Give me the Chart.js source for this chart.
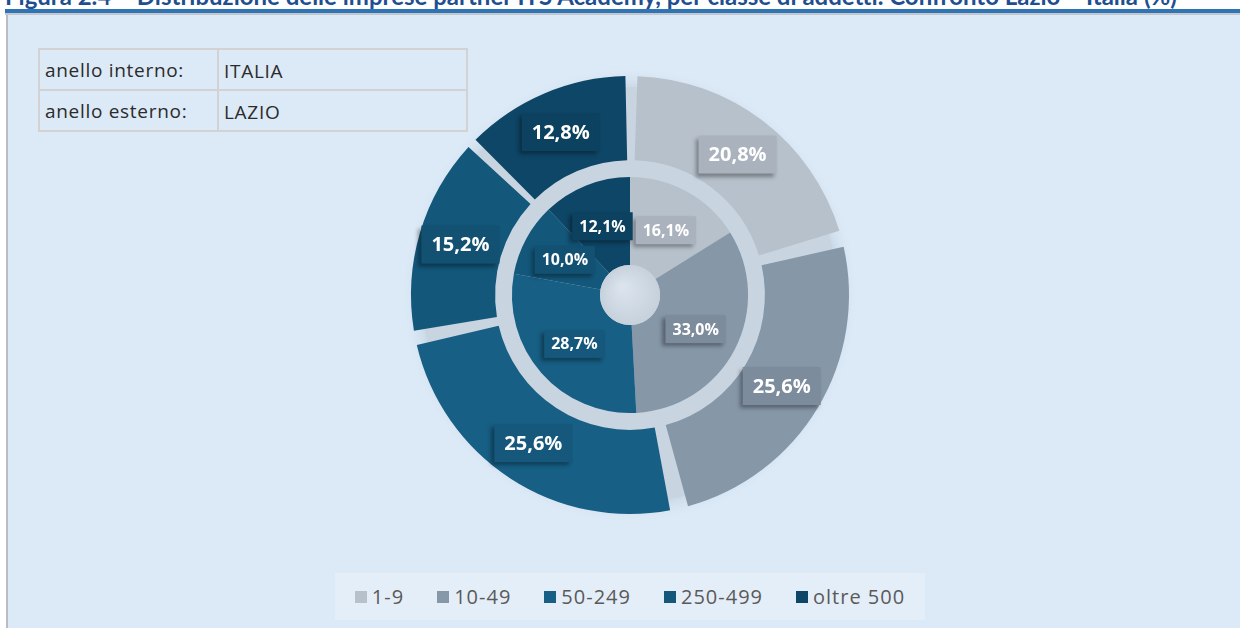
<!DOCTYPE html>
<html>
<head>
<meta charset="utf-8">
<script src="https://cdn.jsdelivr.net/npm/chart.js@4.4.1/dist/chart.umd.min.js"></script>
<style>
    html, body { margin: 0; padding: 0; }
    body { width: 1240px; height: 628px; position: relative; overflow: hidden; background: #fff; font-family: "Open Sans", sans-serif; }
    .title { position: absolute; left: 5px; top: -16px; font: bold 24px/24px Lato, sans-serif; color: #1f4f8f; white-space: nowrap; }
    .rule-blue { position: absolute; left: 5px; right: 0; top: 9px; height: 4px; background: #2f75b6; }
    .rule-grey { position: absolute; left: 5px; right: 0; top: 13px; height: 2px; background: #c4c8cc; }
    .panel { position: absolute; left: 6px; right: 0; top: 15px; bottom: 0; background: #dce9f6; border-left: 2px solid #b9bcc0; }
    .rings { position: absolute; left: 38px; top: 48px; border-collapse: collapse; font-size: 19px; letter-spacing: 0.7px; color: #2b2b2b; }
    .rings td { border: 2px solid #d3d1d2; height: 36px; padding: 0 5px; }
    .rings td:first-child { width: 167px; }
    .rings td:last-child { width: 237px; padding-top: 3px; }
    .chart-box { position: absolute; left: 0; top: 0; width: 1240px; height: 628px; }
    .legend { position: absolute; left: 335px; top: 573px; width: 590px; height: 47px; background: #e4eef8; display: flex; align-items: center; justify-content: center; gap: 33px; font-size: 20px; letter-spacing: 1px; color: #5a5a5a; }
    .legend span { display: flex; align-items: center; }
    .legend i { display: inline-block; width: 12px; height: 12px; margin-right: 5px; }
</style>
</head>
<body>
<div class="title">Figura 2.4 – Distribuzione delle imprese partner ITS Academy, per classe di addetti. Confronto Lazio – Italia (%)</div>
<div class="rule-blue"></div>
<div class="rule-grey"></div>
<div class="panel"></div>
<table class="rings" id="rings"></table>
<div class="chart-box"><canvas id="myChart"></canvas></div>
<div class="legend" id="legend"></div>

<script>
// Dati

const categories = ['1-9', '10-49', '50-249', '250-499', 'oltre 500']
const lazio = [20.8, 25.6, 25.6, 15.2, 12.8]   // anello esterno
const italia = [16.1, 33.0, 28.7, 10.0, 12.1]  // anello interno
const ringLabels = ['anello interno:', 'anello esterno:']
const ringNames = ['ITALIA', 'LAZIO']

const colors = ['#b7c1cb', '#8697a8', '#175f85', '#13577b', '#0e4667']

// Tabellina anelli
const rings = document.getElementById('rings')
ringLabels.forEach((l, i) => {
    rings.innerHTML += '<tr><td>' + l + '</td><td>' + ringNames[i] + '</td></tr>'
})

// Legenda
const legend = document.getElementById('legend')
categories.forEach((c, i) => {
    legend.innerHTML += '<span><i style="background:' + colors[i] + '"></i>' + c + '</span>'
})

const fmt = v => v.toFixed(1).replace('.', ',') + '%'

function darken(hex, k) {
    const n = parseInt(hex.slice(1), 16)
    const r = Math.round(((n >> 16) & 255) * k)
    const g = Math.round(((n >> 8) & 255) * k)
    const b = Math.round((n & 255) * k)
    return 'rgb(' + r + ',' + g + ',' + b + ')'
}

// sfondo grigio dietro gli anelli + foro centrale
const backdrop = {
    id: 'backdrop',
    beforeDatasetsDraw(chart) {
        const arc = chart.getDatasetMeta(0).data[0]
        const ctx = chart.ctx
        ctx.save()
        ctx.shadowColor = 'rgba(40,70,100,0.18)'
        ctx.shadowBlur = 18
        ctx.fillStyle = '#c8d4e0'
        ctx.beginPath()
        ctx.arc(arc.x, arc.y, arc.outerRadius - 2, 0, Math.PI * 2)
        ctx.fill()
        ctx.restore()
    },
    afterDatasetsDraw(chart) {
        const inner = chart.getDatasetMeta(2).data[0]
        const ctx = chart.ctx
        const r = inner.innerRadius
        const g = ctx.createRadialGradient(inner.x - 8, inner.y - 8, 2, inner.x, inner.y, r)
        g.addColorStop(0, '#dbe4ed')
        g.addColorStop(1, '#c6d1dc')
        ctx.save()
        ctx.fillStyle = g
        ctx.beginPath()
        ctx.arc(inner.x, inner.y, r, 0, Math.PI * 2)
        ctx.fill()
        ctx.restore()
    }
}

// etichette nei riquadri
const boxLabels = {
    id: 'boxLabels',
    afterDraw(chart) {
        const ctx = chart.ctx
        const sets = [[0, 20, 38, 20], [2, 16, 28, 14]]
        sets.forEach(([di, size, h, pad]) => {
            const meta = chart.getDatasetMeta(di)
            const data = chart.data.datasets[di].data
            ctx.font = 'bold ' + size + 'px "Open Sans"'
            meta.data.forEach((arc, i) => {
                const p = arc.tooltipPosition()
                const txt = fmt(data[i])
                const w = ctx.measureText(txt).width + pad
                ctx.save()
                ctx.shadowColor = 'rgba(0,0,0,0.35)'
                ctx.shadowBlur = 4
                ctx.shadowOffsetX = -3
                ctx.shadowOffsetY = 3
                ctx.fillStyle = darken(colors[i], 0.93)
                ctx.fillRect(p.x - w / 2, p.y - h / 2, w, h)
                ctx.restore()
                ctx.fillStyle = '#fff'
                ctx.textAlign = 'center'
                ctx.textBaseline = 'middle'
                ctx.fillText(txt, p.x, p.y + 1)
            })
        })
    }
}

const ctx = document.getElementById('myChart').getContext('2d')

const myChart = new Chart(ctx, {
    type: 'doughnut',
    data: {
        labels: categories,
        datasets: [
            { label: 'Lazio', data: lazio, backgroundColor: colors, borderWidth: 0, spacing: 18, weight: 86 },
            { label: '', data: [1], backgroundColor: 'rgba(0,0,0,0)', borderWidth: 0, weight: 8 },
            { label: 'Italia', data: italia, backgroundColor: colors, borderWidth: 0, weight: 90 }
        ]
    },
    options: {
        responsive: true,
        maintainAspectRatio: false,
        animation: false,
        radius: 210,
        cutout: '14.3%',
        layout: { padding: { left: 20, right: 0, top: 77, bottom: 115 } },
        plugins: {
            legend: { display: false },
            tooltip: { enabled: false }
        }
    },
    plugins: [backdrop, boxLabels]
})
</script>
</body>
</html>
